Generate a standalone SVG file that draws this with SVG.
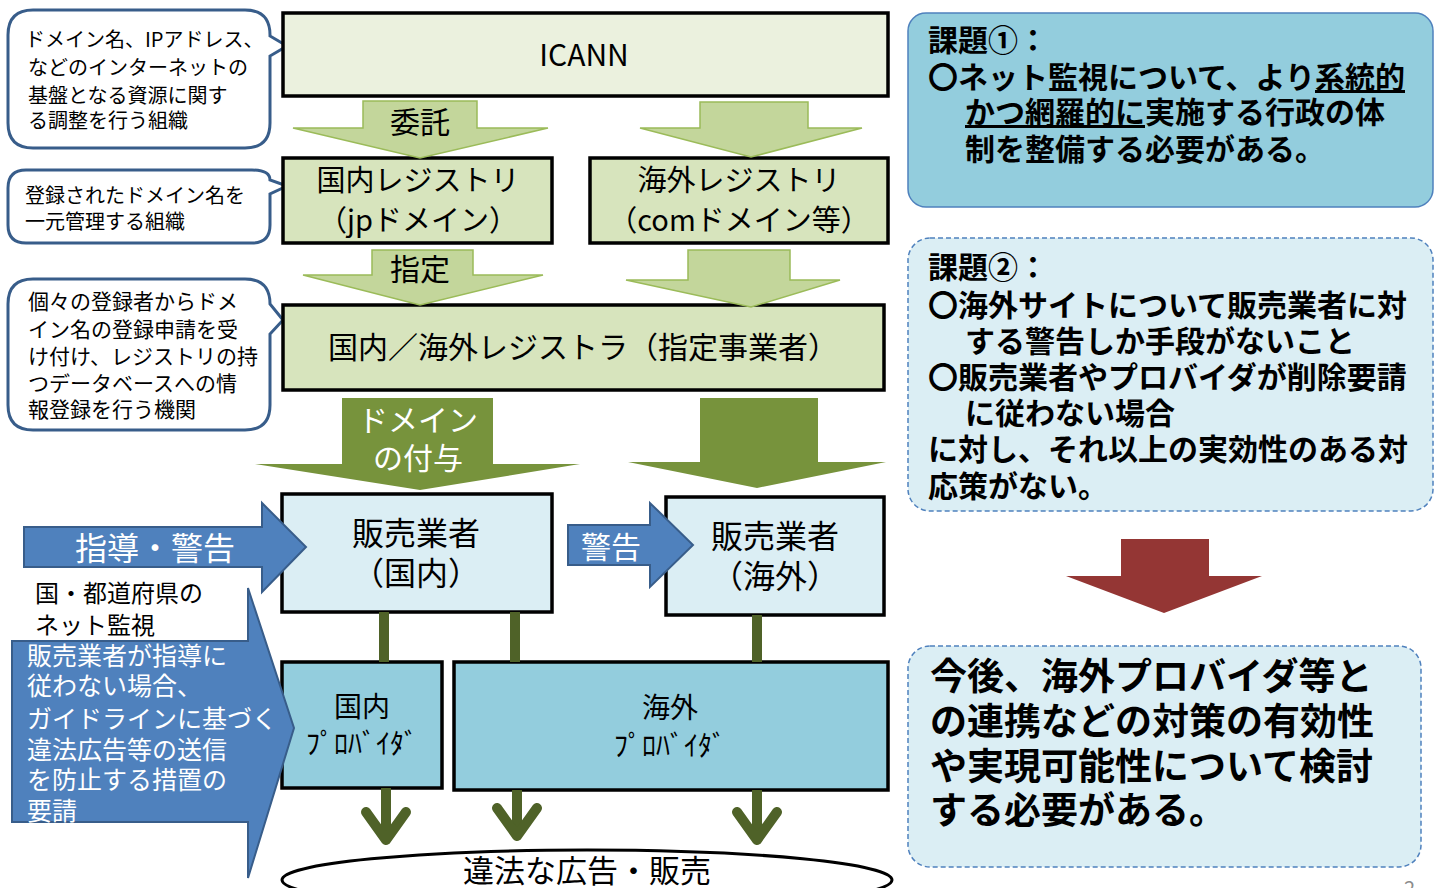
<svg xmlns="http://www.w3.org/2000/svg" width="1443" height="888" viewBox="0 0 1443 888">
<style>
text{font-family:'Noto Sans CJK JP','Noto Sans',sans-serif;fill:#000}
.box{stroke:#000;stroke-width:3.5}
.lg{fill:#ebf1de}.mg{fill:#d7e4bd}.lb{fill:#dbeef4}.mb{fill:#93cddd}
.call{fill:#fff;stroke:#385d8a;stroke-width:3}
.ga{fill:#c3d69b;stroke:#9bbb59;stroke-width:1.5}
.da{fill:#77933c}
.ba{fill:#4f81bd;stroke:#385d8a;stroke-width:2}
.ra{fill:#943634}
.ln{stroke:#4f6228;stroke-width:10;fill:none}
.ch{stroke:#4f6228;stroke-width:10;fill:none;stroke-linecap:round;stroke-linejoin:round}
.w{fill:#fff}
.c{text-anchor:middle}
.b{font-weight:bold}
.dash{stroke:#4f81bd;stroke-width:1.5;stroke-dasharray:5 3}
</style>

<g id="callout-icann">
<path class="call" d="M33,10 H245 Q270,10 270,35 V36 L287,46 L270,56 V123 Q270,148 245,148 H33 Q8,148 8,123 V35 Q8,10 33,10 Z"/>
<text font-size="20" x="25" y="47">ドメイン名、IPアドレス、</text>
<text font-size="20" x="28" y="75">などのインターネットの</text>
<text font-size="20" x="28" y="103">基盤となる資源に関す</text>
<text font-size="20" x="28" y="128">る調整を行う組織</text>
</g>
<g id="callout-registry">
<path class="call" d="M26,170 H252 Q270,170 270,180 L287,186 L270,194 V225 Q270,243 252,243 H26 Q8,243 8,225 V188 Q8,170 26,170 Z"/>
<text font-size="20" x="25" y="203">登録されたドメイン名を</text>
<text font-size="20" x="25" y="229">一元管理する組織</text>
</g>
<g id="callout-registrar">
<path class="call" d="M33,279 H245 Q270,279 270,304 L283,320 L270,334 V405 Q270,430 245,430 H33 Q8,430 8,405 V304 Q8,279 33,279 Z"/>
<text font-size="21" x="28" y="309">個々の登録者からドメ</text>
<text font-size="21" x="28" y="337">イン名の登録申請を受</text>
<text font-size="21" x="28" y="364">け付け、レジストリの持</text>
<text font-size="21" x="28" y="391">つデータベースへの情</text>
<text font-size="21" x="28" y="417">報登録を行う機関</text>
</g>

<g id="icann">
<rect class="box lg" x="283" y="13" width="605" height="83"/>
<text class="c" font-size="30" x="584" y="66">ICANN</text>
</g>
<g id="registry-jp">
<rect class="box mg" x="283" y="158" width="269" height="85"/>
<text class="c" font-size="29" x="418" y="191">国内レジストリ</text>
<text class="c" font-size="29" x="418" y="231">（jpドメイン）</text>
</g>
<g id="registry-overseas">
<rect class="box mg" x="590" y="158" width="298" height="85"/>
<text class="c" font-size="29" x="739" y="191">海外レジストリ</text>
<text class="c" font-size="29" x="739" y="231">（comドメイン等）</text>
</g>
<g id="registrar">
<rect class="box mg" x="283" y="305" width="601" height="85"/>
<text class="c" font-size="30" x="583" y="358">国内／海外レジストラ（指定事業者）</text>
</g>
<g id="seller-jp">
<rect class="box lb" x="282" y="494" width="270" height="118"/>
<text class="c" font-size="32" x="416" y="545">販売業者</text>
<text class="c" font-size="32" x="416" y="585">（国内）</text>
</g>
<g id="seller-overseas">
<rect class="box lb" x="666" y="497" width="218" height="118"/>
<text class="c" font-size="32" x="775" y="548">販売業者</text>
<text class="c" font-size="32" x="775" y="588">（海外）</text>
</g>
<g id="provider-jp">
<rect class="box mb" x="282" y="662" width="160" height="126"/>
<text class="c" font-size="28" x="362" y="717">国内</text>
<text class="c" font-size="28" x="362" y="754">ﾌﾟﾛﾊﾞｲﾀﾞ</text>
</g>
<g id="provider-overseas">
<rect class="box mb" x="454" y="662" width="434" height="128"/>
<text class="c" font-size="28" x="670" y="718">海外</text>
<text class="c" font-size="28" x="670" y="756">ﾌﾟﾛﾊﾞｲﾀﾞ</text>
</g>
<g id="illegal">
<ellipse cx="587" cy="880" rx="305" ry="30" fill="#fff" stroke="#000" stroke-width="3"/>
<text class="c" font-size="31" x="587" y="882">違法な広告・販売</text>
</g>

<g id="issue1">
<rect x="908" y="13" width="525" height="194" rx="18" fill="#93cddd" stroke="#4f81bd" stroke-width="1.5"/>
<text class="b" font-size="30" x="928" y="51">課題①：</text>
<text class="b" font-size="30" x="928" y="88">〇ネット監視について、より<tspan text-decoration="underline">系統的</tspan></text>
<text class="b" font-size="30" x="965" y="123"><tspan text-decoration="underline">かつ網羅的に</tspan>実施する行政の体</text>
<text class="b" font-size="30" x="965" y="160">制を整備する必要がある。</text>
</g>
<g id="issue2">
<rect class="dash" x="908" y="238" width="525" height="273" rx="22" fill="#dbeef4"/>
<text class="b" font-size="30" x="928" y="278">課題②：</text>
<text class="b" font-size="30" x="928" y="316">〇海外サイトについて販売業者に対</text>
<text class="b" font-size="30" x="965" y="352">する警告しか手段がないこと</text>
<text class="b" font-size="30" x="928" y="388">〇販売業者やプロバイダが削除要請</text>
<text class="b" font-size="30" x="965" y="424">に従わない場合</text>
<text class="b" font-size="30" x="928" y="460">に対し、それ以上の実効性のある対</text>
<text class="b" font-size="30" x="928" y="497">応策がない。</text>
</g>
<g id="conclusion">
<rect class="dash" x="908" y="646" width="513" height="221" rx="22" fill="#dbeef4"/>
<text class="b" font-size="37" x="930" y="690">今後、海外プロバイダ等と</text>
<text class="b" font-size="37" x="930" y="735">の連携などの対策の有効性</text>
<text class="b" font-size="37" x="930" y="780">や実現可能性について検討</text>
<text class="b" font-size="37" x="930" y="824">する必要がある。</text>
</g>
<g id="page-number">
<text font-size="20" x="1404" y="896" fill="#8c8c8c" style="fill:#8c8c8c">2</text>
</g>

<g id="connectors">
<polygon class="ga" points="363,101 477,101 477,128 548,128 420,158 293,128 363,128"/>
<text class="c" font-size="30" x="420" y="133">委託</text>
<polygon class="ga" points="700,102 808,102 808,128 862,128 751,157 640,128 700,128"/>
<polygon class="ga" points="372,250 473,250 473,275 543,275 420,305 303,275 372,275"/>
<text class="c" font-size="30" x="420" y="280">指定</text>
<polygon class="ga" points="688,250 790,250 790,280 840,280 751,307 626,280 688,280"/>
<polygon class="da" points="342,398 493,398 493,464 580,464 420,490 255,464 342,464"/>
<text class="c w" font-size="30" x="418" y="431" style="fill:#fff">ドメイン</text>
<text class="c w" font-size="30" x="418" y="469" style="fill:#fff">の付与</text>
<polygon class="da" points="700,398 818,398 818,462 886,462 757,488 628,462 700,462"/>
<polygon class="ra" points="1121,539 1209,539 1209,576 1262,576 1164,613 1066,576 1121,576"/>

<line class="ln" x1="384" y1="612" x2="384" y2="662"/>
<line class="ln" x1="515" y1="612" x2="515" y2="662"/>
<line class="ln" x1="757" y1="615" x2="757" y2="662"/>
<line class="ln" x1="386" y1="788" x2="386" y2="838"/>
<polyline class="ch" points="366,812 386,840 406,812"/>
<line class="ln" x1="517" y1="790" x2="517" y2="834"/>
<polyline class="ch" points="497,808 517,836 537,808"/>
<line class="ln" x1="757" y1="790" x2="757" y2="838"/>
<polyline class="ch" points="737,812 757,840 777,812"/>

<polygon class="ba" points="568,525 650,525 650,503 693,545 650,587 650,565 568,565"/>
<text class="c" font-size="30" x="611" y="558" style="fill:#fff">警告</text>
<polygon class="ba" points="24,527 262,527 262,503 306,547 262,592 262,567 24,567"/>
<text class="c" font-size="32" x="155" y="560" style="fill:#fff">指導・警告</text>
<text font-size="24" x="35" y="602">国・都道府県の</text>
<text font-size="24" x="35" y="634">ネット監視</text>
<polygon class="ba" points="12,641 248,641 248,588 294,728 248,878 248,822 12,822"/>
<g font-size="25" style="fill:#fff">
<text x="27" y="665" style="fill:#fff">販売業者が指導に</text>
<text x="27" y="695" style="fill:#fff">従わない場合、</text>
<text x="27" y="728" style="fill:#fff">ガイドラインに基づく</text>
<text x="27" y="759" style="fill:#fff">違法広告等の送信</text>
<text x="27" y="789" style="fill:#fff">を防止する措置の</text>
<text x="27" y="820" style="fill:#fff">要請</text>
</g>
</g>
</svg>
